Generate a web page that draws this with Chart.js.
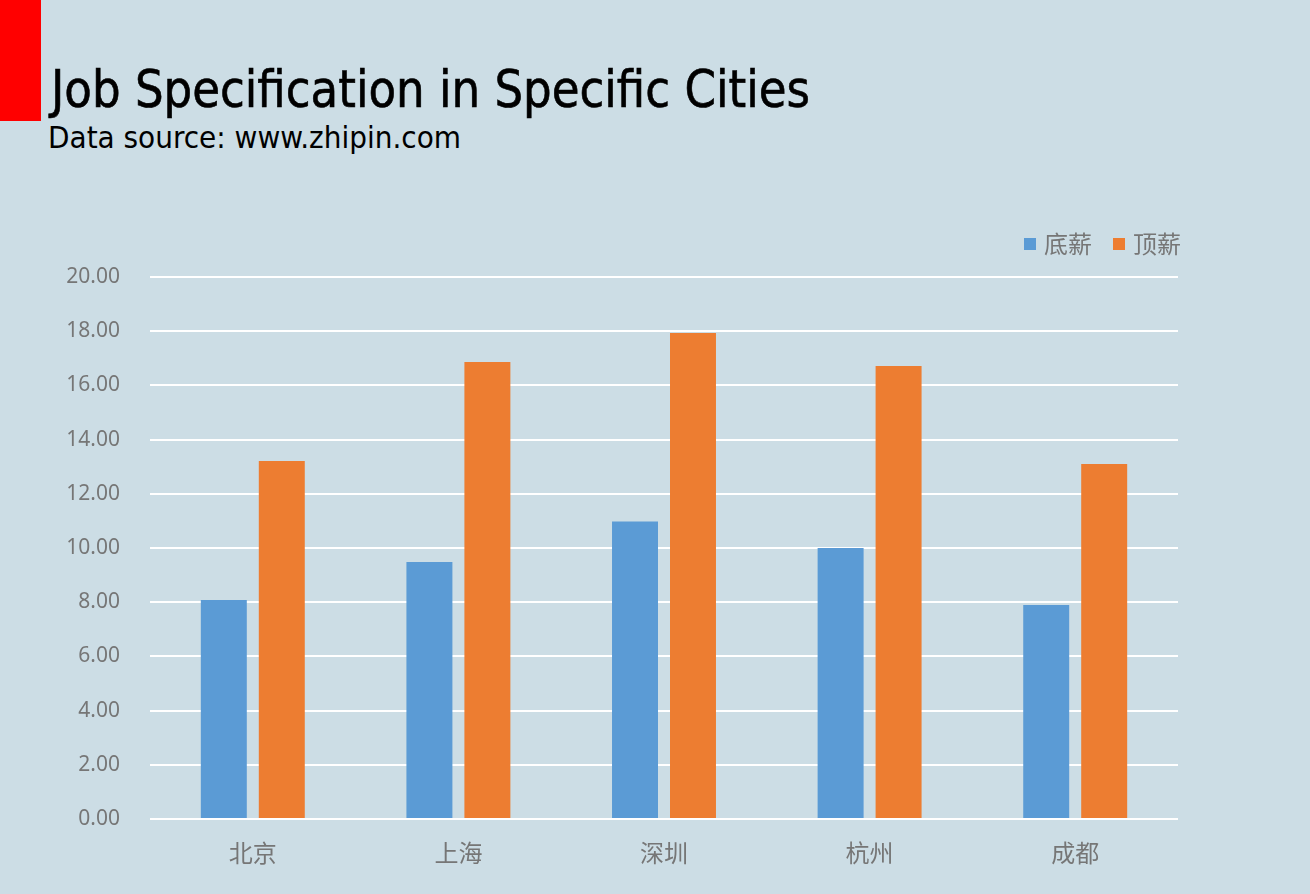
<!DOCTYPE html>
<html>
<head>
<meta charset="utf-8">
<script src="https://cdn.jsdelivr.net/npm/chart.js@4.4.1/dist/chart.umd.min.js"></script>
<style>
  html, body { margin:0; padding:0; background:#CCDDE5; }
  #wrap { position:relative; width:1310px; height:894px; overflow:hidden; background:#CCDDE5; }
  #bar { position:absolute; left:0; top:0; width:41px; height:121px; background:#FF0000; }
  #title { position:absolute; left:51px; top:63px; font-family:"Liberation Sans Narrow","DejaVu Sans Condensed",sans-serif; font-size:52px; color:#000; white-space:nowrap; line-height:1; transform-origin:0 0; -webkit-text-stroke:0.6px #000; }
  #sub { position:absolute; left:48px; top:122px; font-family:"Liberation Sans Narrow","DejaVu Sans Condensed",sans-serif; font-size:31px; color:#000; white-space:nowrap; line-height:1; transform-origin:0 0; }
  #legend { position:absolute; left:0; top:0; font-family:"Noto Sans CJK SC",sans-serif; font-size:24px; color:#767676; line-height:1; }
  .lbox { position:absolute; width:12px; height:12px; }
  .ltxt { position:absolute; white-space:nowrap; }
  canvas { position:absolute; left:0; top:0; }
</style>
</head>
<body>
<div id="wrap">
  <div id="bar"></div>
  <div id="title">Job Specification in Specific Cities</div>
  <div id="sub">Data source: www.zhipin.com</div>
  <canvas id="c" width="1310" height="894"></canvas>
  <div id="legend"></div>
</div>
<script>
const cities = ["北京", "上海", "深圳", "杭州", "成都"];
const seriesNames = ["底薪", "顶薪"];
const seriesColors = ["#5B9BD5", "#ED7D31"];
const baseSalary = [8.08, 9.48, 10.98, 10.0, 7.9];
const topSalary = [13.21, 16.86, 17.93, 16.72, 13.1];
const yTicks = [0, 2, 4, 6, 8, 10, 12, 14, 16, 18, 20];

function fitWidth(id, target) {
  const el = document.getElementById(id);
  const w = el.getBoundingClientRect().width;
  el.style.transform = 'scaleX(' + (target / w) + ')';
}
fitWidth('title', 759);
fitWidth('sub', 413);

// HTML legend (series names and colours from the arrays above)
const legendEl = document.getElementById('legend');
const legendBoxX = [1024, 1113];
seriesNames.forEach((name, i) => {
  const b = document.createElement('div');
  b.className = 'lbox';
  b.style.left = legendBoxX[i] + 'px';
  b.style.top = '238px';
  b.style.background = seriesColors[i];
  legendEl.appendChild(b);
  const t = document.createElement('div');
  t.className = 'ltxt';
  t.textContent = name;
  t.style.left = (legendBoxX[i] + 20) + 'px';
  t.style.top = '231px';
  legendEl.appendChild(t);
});

const labelColor = '#767676';
new Chart(document.getElementById('c'), {
  type: 'bar',
  data: {
    labels: cities,
    datasets: [
      { label: seriesNames[0], data: baseSalary, backgroundColor: seriesColors[0], barPercentage: 0.793, categoryPercentage: 0.564 },
      { label: seriesNames[1], data: topSalary, backgroundColor: seriesColors[1], barPercentage: 0.793, categoryPercentage: 0.564 }
    ]
  },
  options: {
    responsive: false,
    animation: false,
    layout: { padding: { left: 0, right: 132, top: 277, bottom: 0 } },
    plugins: {
      legend: { display: false },
      tooltip: { enabled: false },
      title: { display: false }
    },
    scales: {
      x: {
        grid: { display: false, drawTicks: false },
        border: { display: false },
        ticks: { color: labelColor, padding: 19, font: { family: '"Noto Sans CJK SC", sans-serif', size: 24 } },
        afterFit: (s) => { s.height = 75; }
      },
      y: {
        min: 0, max: 20,
        afterBuildTicks: (s) => { s.ticks = yTicks.map(v => ({ value: v })); },
        grid: { color: '#FFFFFF', lineWidth: 2, drawTicks: false },
        border: { display: false },
        ticks: {
          color: labelColor, padding: 30,
          font: { family: '"Noto Sans", sans-serif', size: 21 },
          callback: (v) => Number(v).toFixed(2)
        },
        afterFit: (s) => { s.width = 150; }
      }
    }
  }
});
</script>
</body>
</html>
